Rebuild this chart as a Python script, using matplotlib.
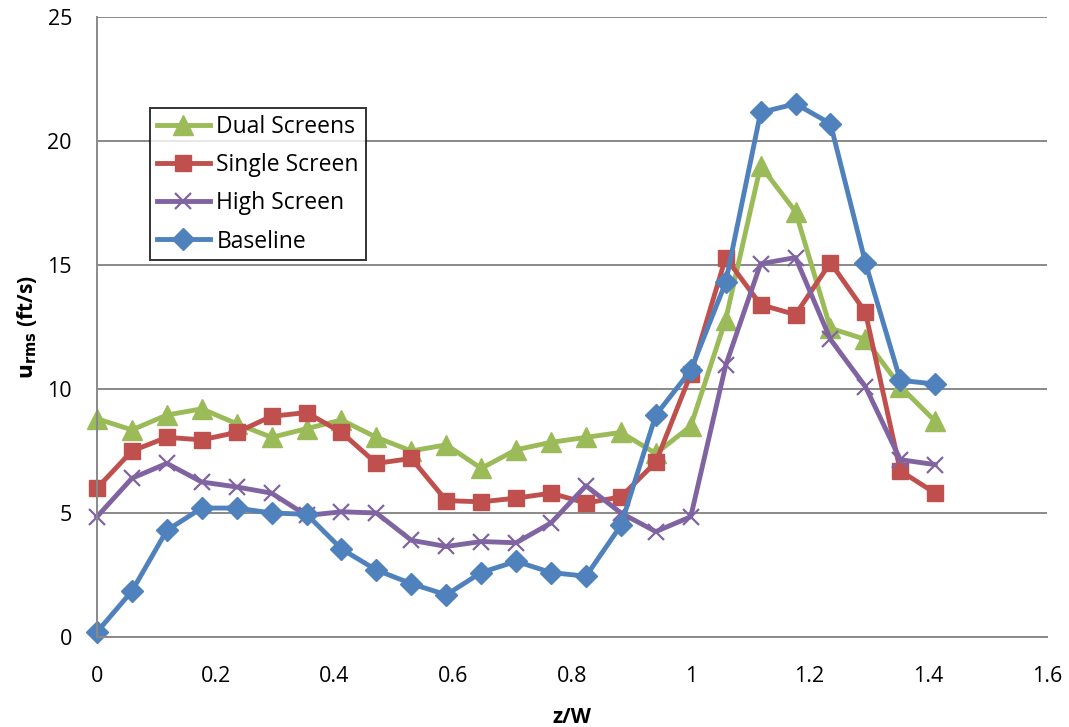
import matplotlib
matplotlib.use("Agg")
import matplotlib.pyplot as plt
import numpy as np

x = [i / 17 for i in range(25)]

dual = [8.8, 8.35, 8.95, 9.2, 8.6, 8.05, 8.4, 8.75, 8.05, 7.5, 7.75, 6.8, 7.55, 7.85,
        8.05, 8.25, 7.4, 8.5, 12.8, 19.0, 17.15, 12.45, 12.0, 10.1, 8.7]
single = [6.0, 7.5, 8.05, 7.95, 8.25, 8.9, 9.05, 8.25, 7.0, 7.2, 5.5, 5.45, 5.6, 5.8,
          5.4, 5.65, 7.05, 10.6, 15.3, 13.4, 13.0, 15.1, 13.1, 6.7, 5.8]
high = [4.85, 6.4, 7.0, 6.25, 6.05, 5.8, 4.9, 5.05, 5.0, 3.9, 3.65, 3.85, 3.8, 4.6,
        6.1, 5.0, 4.25, 4.85, 10.95, 15.05, 15.3, 12.0, 10.1, 7.15, 6.95]
baseline = [0.2, 1.85, 4.3, 5.2, 5.2, 5.0, 4.95, 3.55, 2.7, 2.15, 1.7, 2.6, 3.05, 2.6,
            2.45, 4.5, 8.95, 10.75, 14.3, 21.15, 21.5, 20.7, 15.1, 10.35, 10.2]

labels = ["Dual Screens", "Single Screen", "High Screen", "Baseline"]
colors = ["#9BBB59", "#C0504D", "#8064A2", "#4F81BD"]
markers = ["^", "s", "x", "D"]
msizes = [14, 12, 12, 11]

xticks = [0, 0.2, 0.4, 0.6, 0.8, 1, 1.2, 1.4, 1.6]
xticklabels = ["0", "0.2", "0.4", "0.6", "0.8", "1", "1.2", "1.4", "1.6"]
yticks = [0, 5, 10, 15, 20, 25]

plt.rcParams['font.family'] = ['Open Sans', 'DejaVu Sans']

fig = plt.figure(figsize=(10.69, 7.27), dpi=100)
ax = fig.add_axes([97 / 1069, 1 - 637 / 727, 950 / 1069, 620 / 727])

for ys, lab, c, m, ms in zip([dual, single, high, baseline], labels, colors, markers, msizes):
    kw = dict(color=c, lw=3.5, marker=m, markersize=ms, label=lab, clip_on=False)
    if m == "x":
        kw.update(markeredgewidth=1.6)
    else:
        kw.update(markeredgecolor=c)
    ax.plot(x, ys, **kw)

ax.set_xlim(0, 1.6)
ax.set_ylim(0, 25)
ax.set_xticks(xticks)
ax.set_xticklabels(xticklabels)
ax.set_yticks(yticks)
ax.grid(axis='y', color='#898989', lw=1.4)
ax.set_axisbelow(True)
for s in ['top', 'right']:
    ax.spines[s].set_visible(False)
for s in ['left', 'bottom']:
    ax.spines[s].set_color('#898989')
    ax.spines[s].set_linewidth(1.4)
ax.tick_params(axis='both', labelsize=15.5, length=0, labelcolor='black')
ax.tick_params(axis='x', pad=21)
ax.tick_params(axis='y', pad=18)

ax.set_xlabel("z/W", fontsize=15, fontweight='bold', labelpad=14)
ax.set_ylabel(r"$\mathbf{u_{rms}}$ (ft/s)", fontsize=15, fontweight='bold', labelpad=6)

leg = ax.legend(loc='upper left', bbox_to_anchor=((150 - 97) / 950, (637 - 108) / 620),
                fontsize=16.5, frameon=True, fancybox=False, edgecolor='black',
                handlelength=2.3, handletextpad=0.3, borderpad=0.3, labelspacing=0.62,
                borderaxespad=0)
leg.get_frame().set_linewidth(1.4)

fig.savefig("out.png", dpi=100)
